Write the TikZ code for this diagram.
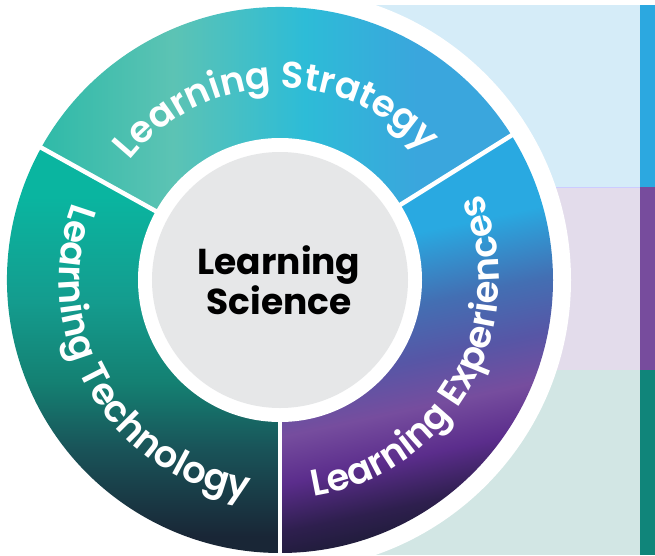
\documentclass[tikz,border=0pt]{standalone}
\usepackage{fontspec}
\setmainfont{Poppins}
\newfontfamily\ringfamily{Poppins}[UprightFont={* SemiBold}]
\usetikzlibrary{decorations.text}

\definecolor{lblue}{HTML}{D5ECF8}
\definecolor{lpurple}{HTML}{E3DCEB}
\definecolor{lteal}{HTML}{D2E6E4}
\definecolor{bblue}{HTML}{2CA8E0}
\definecolor{bpurple}{HTML}{774C9D}
\definecolor{bteal}{HTML}{10857A}
\definecolor{core}{HTML}{E6E7E8}

\definecolor{s1}{HTML}{2FBAA8}
\definecolor{s2}{HTML}{5CC3B4}
\definecolor{s3}{HTML}{2DBCD7}
\definecolor{s4}{HTML}{3AA6DD}
\definecolor{t1}{HTML}{0AB5A0}
\definecolor{t2}{HTML}{149C8E}
\definecolor{t3}{HTML}{148072}
\definecolor{t4}{HTML}{195459}
\definecolor{t5}{HTML}{192636}
\definecolor{e1}{HTML}{29A9E1}
\definecolor{e2}{HTML}{436FB3}
\definecolor{e3}{HTML}{5756A6}
\definecolor{e4}{HTML}{764D9E}
\definecolor{e5}{HTML}{5B2D8C}
\definecolor{e6}{HTML}{2E1F4E}
\definecolor{e7}{HTML}{1A1B33}

\pgfdeclarehorizontalshading{strategy}{100bp}{color(0bp)=(s1); color(25bp)=(s1);
  color(39bp)=(s2); color(53bp)=(s3); color(65bp)=(s4); color(100bp)=(s4)}
\pgfdeclareverticalshading{technology}{100bp}{color(0bp)=(t5); color(27bp)=(t5);
  color(38bp)=(t4); color(46bp)=(t3); color(56bp)=(t2); color(69bp)=(t1); color(100bp)=(t1)}
\pgfdeclareverticalshading{experience}{100bp}{color(0bp)=(e7); color(25bp)=(e7);
  color(30bp)=(e6); color(36bp)=(e5); color(42bp)=(e4); color(48bp)=(e3);
  color(55bp)=(e2); color(64bp)=(e1); color(100bp)=(e1)}

\newcommand{\ringfont}{\ringfamily\fontsize{37}{37}\selectfont}

\begin{document}
\begin{tikzpicture}[x=1pt, y=1pt,
    divider/.style={white, line width=4.5pt},
    ringtext/.style={decorate, decoration={text along path, text align=center, text color=white}},
    core/.style={circle, fill=core, minimum size=256pt, inner sep=0pt}]
	\useasboundingbox (-280,-275) rectangle (375,280);
	\clip (-280,-275) rectangle (375,280);

	\fill[lblue] (10,275) rectangle (360,93);
	\fill[lpurple] (10,93) rectangle (360,-90);
	\fill[lteal] (10,-90) rectangle (360,-275);
	\fill[bblue] (360,275) rectangle (375,93);
	\fill[bpurple] (360,93) rectangle (375,-90);
	\fill[bteal] (360,-90) rectangle (375,-275);
	\draw[blue!20, line width=0.6pt] (10,93) -- (360,93);

	\fill[white] (0,0) circle (291);
	\shade[shading=strategy] (0,0) -- (32:273) arc[start angle=32, end angle=151, radius=273] -- cycle;
	\shade[shading=technology] (0,0) -- (151:273) arc[start angle=151, end angle=270, radius=273] -- cycle;
	\shade[shading=experience, shading angle=12] (0,0) -- (270:273) arc[start angle=270, end angle=392, radius=273] -- cycle;
	\foreach \a in {32,151,270}
		\draw[divider] (\a:130) -- (\a:276);

	\fill[white] (0,0) circle (142);
	\node[core] (sci) at (0,0) {};
	\node[align=center, font=\fontsize{36}{40}\selectfont\bfseries] (scitext) at (-1,0) {Learning\\Science};

	\path[ringtext, decoration={text={|\ringfont|Learning Strategy}}]
		(151:192) arc[start angle=151, end angle=32, radius=192];
	\path[ringtext, decoration={text={|\ringfont|Learning Technology}}]
		(151:221) arc[start angle=151, end angle=270, radius=221];
	\path[ringtext, decoration={text={|\ringfont|Learning Experiences}}]
		(270:219) arc[start angle=270, end angle=392, radius=219];
\end{tikzpicture}
\end{document}
